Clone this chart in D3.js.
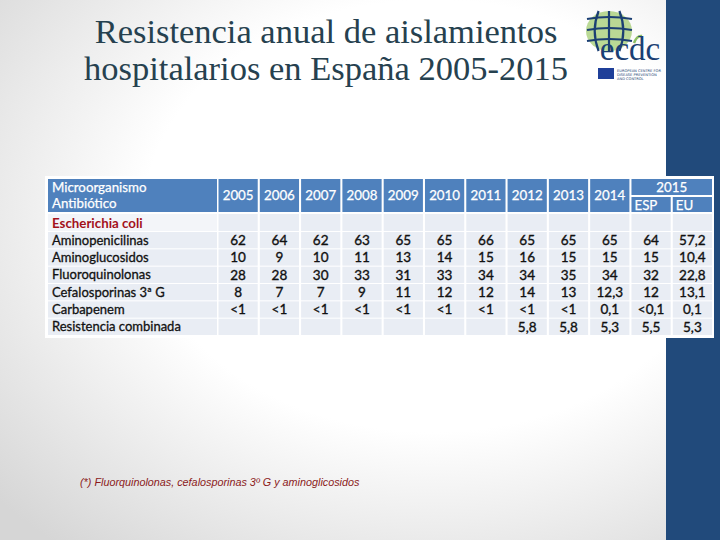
<!DOCTYPE html>
<html><head><meta charset="utf-8">
<script src="https://cdn.jsdelivr.net/npm/d3@7"></script>
<style>html,body{margin:0;padding:0;background:#fff}svg{display:block}</style>
</head><body>
<svg id="c" width="720" height="540"></svg>
<script>
const titleLines = ["Resistencia anual de aislamientos", "hospitalarios en España 2005-2015"];
const headerLabel = ["Microorganismo", "Antibiótico"];
const organism = "Escherichia coli";
const columns = ["2005","2006","2007","2008","2009","2010","2011","2012","2013","2014","ESP","EU"];
const yearHeaders = ["2005","2006","2007","2008","2009","2010","2011","2012","2013","2014"];
const splitYear = "2015";
const antibiotics = ["Aminopenicilinas","Aminoglucosidos","Fluoroquinolonas","Cefalosporinas 3ª G","Carbapenem","Resistencia combinada"];
const aminopenicilinas = ["62","64","62","63","65","65","66","65","65","65","64","57,2"];
const aminoglucosidos = ["10","9","10","11","13","14","15","16","15","15","15","10,4"];
const fluoroquinolonas = ["28","28","30","33","31","33","34","34","35","34","32","22,8"];
const cefalosporinas = ["8","7","7","9","11","12","12","14","13","12,3","12","13,1"];
const carbapenem = ["<1","<1","<1","<1","<1","<1","<1","<1","<1","0,1","<0,1","0,1"];
const combinada = ["","","","","","","","5,8","5,8","5,3","5,5","5,3"];
const footnote = "(*) Fluorquinolonas, cefalosporinas 3º G y aminoglicosidos";
const logoLines = ["EUROPEAN CENTRE FOR", "DISEASE PREVENTION", "AND CONTROL"];

const values = [aminopenicilinas, aminoglucosidos, fluoroquinolonas, cefalosporinas, carbapenem, combinada];

const svg = d3.select("#c");
const defs = svg.append("defs");
const rg = defs.append("radialGradient").attr("id","bg").attr("cx","0.6").attr("cy","0.4").attr("r","0.8");
rg.append("stop").attr("offset","0.5").attr("stop-color","#ffffff");
rg.append("stop").attr("offset","1").attr("stop-color","#d6d6d6");
svg.append("rect").attr("width",720).attr("height",540).attr("fill","url(#bg)");
svg.append("rect").attr("x",666).attr("y",0).attr("width",54).attr("height",540).attr("fill","#214a7b");

// title
svg.append("g").selectAll("text").data(titleLines).join("text")
  .attr("x",326).attr("y",(d,i)=>43+i*37).attr("text-anchor","middle")
  .attr("font-family","'Liberation Serif', serif").attr("font-size",34.5)
  .attr("fill","#26414f").text(d=>d);

// logo (approximation of ECDC logo)
const lg = svg.append("g");
lg.append("ellipse").attr("cx",609).attr("cy",31).attr("rx",23).attr("ry",20).attr("fill","#a9cf7a").attr("opacity",0.8);
[-13,0,13].forEach(o=>lg.append("path").attr("d",`M${609+o*0.8},11 Q${609+o*1.4},31 ${609+o*0.8},51`).attr("fill","none").attr("stroke","#1b3f73").attr("stroke-width",2.2));
[19,30,41].forEach(yy=>lg.append("path").attr("d",`M587,${yy} Q609,${yy-4} 632,${yy}`).attr("fill","none").attr("stroke","#1b3f73").attr("stroke-width",2.2));
lg.append("path").attr("d","M634,43 Q637,35 642,36").attr("fill","none").attr("stroke","#8dc063").attr("stroke-width",2.5);
lg.append("text").attr("x",630).attr("y",60).attr("text-anchor","middle").attr("font-family","'Liberation Serif', serif").attr("font-size",33).attr("fill","#1b3f73").text("ecdc");
lg.append("rect").attr("x",598).attr("y",68).attr("width",16).attr("height",11).attr("fill","#1f3f99");
lg.selectAll("text.ll").data(logoLines).join("text").attr("class","ll").attr("x",617).attr("y",(d,i)=>72+i*3.8)
  .attr("font-family","'DejaVu Sans', sans-serif").attr("font-size",3.6).attr("fill","#1b3f73").text(d=>d);

// table
const x = d3.scaleBand().domain(columns).range([218.5, 712]).paddingInner(0.05);
const labelX0 = 48, labelX1 = 217;
const y = d3.scaleBand().domain(antibiotics).range([232, 335]).paddingInner(0.06);
const hdrTop = 179, hdrBot = 212, orgTop = 214, orgBot = 231;
const font = "Lato, 'Open Sans', sans-serif";
const headBlue = "#4f81bd", cellBg = "#e9edf4";

svg.append("rect").attr("x",45).attr("y",176).attr("width",669).attr("height",162).attr("fill","#ffffff");

const t = svg.append("g");
// header cells
t.append("rect").attr("x",labelX0).attr("y",hdrTop).attr("width",labelX1-labelX0).attr("height",hdrBot-hdrTop).attr("fill",headBlue);
t.selectAll("rect.yh").data(yearHeaders).join("rect").attr("class","yh")
  .attr("x",d=>x(d)).attr("y",hdrTop).attr("width",x.bandwidth()).attr("height",hdrBot-hdrTop).attr("fill",headBlue);
const sx0 = x("ESP"), sx1 = x("EU")+x.bandwidth();
t.append("rect").attr("x",sx0).attr("y",hdrTop).attr("width",sx1-sx0).attr("height",16).attr("fill",headBlue);
t.selectAll("rect.sh").data(["ESP","EU"]).join("rect").attr("class","sh")
  .attr("x",d=>x(d)).attr("y",hdrTop+18).attr("width",x.bandwidth()).attr("height",hdrBot-hdrTop-18).attr("fill",headBlue);

const hs = 13.3;
t.selectAll("text.hl").data(headerLabel).join("text").attr("class","hl")
  .attr("x",labelX0+4).attr("y",(d,i)=>hdrTop+13+i*16).attr("font-family",font).attr("font-size",hs)
  .attr("stroke","#fff").attr("stroke-width",0.25).attr("fill","#fff").text(d=>d);
t.selectAll("text.yt").data(yearHeaders).join("text").attr("class","yt")
  .attr("x",d=>x(d)+x.bandwidth()/2).attr("y",(hdrTop+hdrBot)/2+4.5).attr("text-anchor","middle")
  .attr("font-family",font).attr("font-size",hs).attr("stroke","#fff").attr("stroke-width",0.25).attr("fill","#fff").text(d=>d);
t.append("text").attr("x",(sx0+sx1)/2).attr("y",hdrTop+12.5).attr("text-anchor","middle")
  .attr("font-family",font).attr("font-size",hs).attr("stroke","#fff").attr("stroke-width",0.25).attr("fill","#fff").text(splitYear);
t.selectAll("text.st").data(["ESP","EU"]).join("text").attr("class","st")
  .attr("x",d=>x(d)+3).attr("y",hdrBot-2.5).attr("font-family",font).attr("font-size",hs)
  .attr("stroke","#fff").attr("stroke-width",0.25).attr("fill","#fff").text(d=>d);

// organism row
t.append("rect").attr("x",labelX0).attr("y",orgTop).attr("width",labelX1-labelX0).attr("height",orgBot-orgTop).attr("fill","#f3f5f9");
t.selectAll("rect.oc").data(columns).join("rect").attr("class","oc")
  .attr("x",d=>x(d)).attr("y",orgTop).attr("width",x.bandwidth()).attr("height",orgBot-orgTop).attr("fill",cellBg);
t.append("text").attr("x",labelX0+4).attr("y",orgBot-3.5).attr("font-family",font).attr("font-size",13.3)
  .attr("font-weight","bold").attr("fill","#a3111b").text(organism);

// body rows
const rows = t.selectAll("g.row").data(antibiotics).join("g").attr("class","row");
rows.append("rect").attr("x",labelX0).attr("y",d=>y(d)).attr("width",labelX1-labelX0).attr("height",y.bandwidth()).attr("fill",cellBg);
rows.append("text").attr("x",labelX0+4).attr("y",d=>y(d)+y.bandwidth()/2+4.5).attr("font-family",font).attr("font-size",13)
  .attr("stroke","#111").attr("stroke-width",0.3).attr("fill","#111").text(d=>d);
rows.each(function(r,ri){
  const g = d3.select(this);
  const cells = columns.map((c,ci)=>({c, v: values[ri][ci]}));
  g.selectAll("rect.v").data(cells).join("rect").attr("class","v")
    .attr("x",d=>x(d.c)).attr("y",y(r)).attr("width",x.bandwidth()).attr("height",y.bandwidth()).attr("fill",cellBg);
  g.selectAll("text.v").data(cells).join("text").attr("class","v")
    .attr("x",d=>x(d.c)+x.bandwidth()/2).attr("y",y(r)+y.bandwidth()/2+4.8).attr("text-anchor","middle")
    .attr("font-family",font).attr("font-size",13.5).attr("stroke","#111").attr("stroke-width",0.35)
    .attr("fill","#111").text(d=>d.v);
});

// footnote
svg.append("text").attr("x",80).attr("y",486).attr("font-family","'Liberation Sans', Arial, sans-serif")
  .attr("font-style","italic").attr("font-size",10.8).attr("fill","#8b1a1a").text(footnote);
</script>
</body></html>
